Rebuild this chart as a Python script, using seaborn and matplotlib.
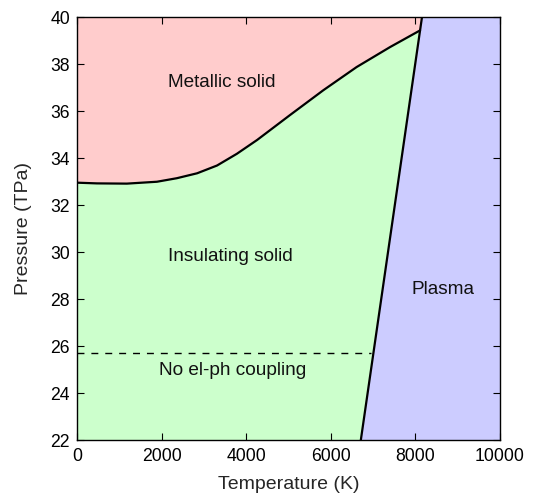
import matplotlib
matplotlib.use("Agg")
import matplotlib.pyplot as plt
import numpy as np
import pandas as pd
import seaborn as sns

# Metal-insulator boundary of the solid phase
mi_temperature = [0, 470, 1180, 1890, 2360, 2840, 3310, 3780, 4260,
                  5030, 5820, 6610, 7400, 8110]
mi_pressure = [32.95, 32.92, 32.91, 32.99, 33.14, 33.35, 33.68, 34.18, 34.77,
               35.82, 36.88, 37.87, 38.72, 39.43]

# Melting line (solid -> plasma)
melt_temperature = [6710, 8110, 8156]
melt_pressure = [22.0, 39.43, 40.0]

# Electron-phonon coupling threshold
coupling_pressure = 25.7
coupling_temperature = [0, 6950]

x_ticks = [0, 2000, 4000, 6000, 8000, 10000]
y_ticks = [22, 24, 26, 28, 30, 32, 34, 36, 38, 40]
t_min, t_max = 0, 10000
p_min, p_max = 22, 40

phase_labels = ["Metallic solid", "Insulating solid", "Plasma", "No el-ph coupling"]
label_temperature = [3420, 3620, 8650, 3690]
label_pressure = [37.2, 29.8, 28.4, 24.95]

colors = {"metal": "#ffcccc", "insulator": "#ccffcc", "plasma": "#ccccff"}

sns.set_style("ticks")
plt.rcParams["font.family"] = ["Liberation Sans", "DejaVu Sans"]

fig = plt.figure(figsize=(5.38, 4.93), dpi=100)
ax = fig.add_axes([0.1431, 0.1075, 0.7863, 0.858])
ax.set_axisbelow(False)

# Phase regions
mt = np.array(mi_temperature)
mp = np.array(mi_pressure)
metal_x = np.concatenate([[t_min], mt, [melt_temperature[-1]]])
metal_y = np.concatenate([[p_max], mp, [p_max]])
ax.fill(metal_x, metal_y, color=colors["metal"], lw=0, zorder=0.5)

ins_x = np.concatenate([[t_min], mt, [melt_temperature[0]]])
ins_y = np.concatenate([[p_min], mp, [melt_pressure[0]]])
ax.fill(ins_x, ins_y, color=colors["insulator"], lw=0, zorder=0.5)

pl_x = [melt_temperature[0], melt_temperature[-1], t_max, t_max]
pl_y = [melt_pressure[0], melt_pressure[-1], p_max, p_min]
ax.fill(pl_x, pl_y, color=colors["plasma"], lw=0, zorder=0.5)

# Phase boundaries
mi_df = pd.DataFrame({"T": mi_temperature, "P": mi_pressure})
sns.lineplot(data=mi_df, x="T", y="P", ax=ax, color="black", lw=1.6,
             sort=False, estimator=None, solid_joinstyle="round")
melt_df = pd.DataFrame({"T": melt_temperature, "P": melt_pressure})
sns.lineplot(data=melt_df, x="T", y="P", ax=ax, color="black", lw=1.6,
             sort=False, estimator=None, solid_joinstyle="round")
cp_df = pd.DataFrame({"T": coupling_temperature,
                      "P": [coupling_pressure] * len(coupling_temperature)})
sns.lineplot(data=cp_df, x="T", y="P", ax=ax, color="black", lw=1.0,
             linestyle=(0, (5, 5)), estimator=None)

for text, tx, py in zip(phase_labels, label_temperature, label_pressure):
    ax.text(tx, py, text, ha="center", va="center", fontsize=13.7, color="#111111")

ax.set_xlim(t_min, t_max)
ax.set_ylim(p_min, p_max)
ax.set_xticks(x_ticks)
ax.set_yticks(y_ticks)
ax.tick_params(direction="in", length=5, width=0.8, top=True, right=True,
               labelsize=12.7, pad=5, colors="black")
ax.tick_params(axis="x", pad=6)
for s in ax.spines.values():
    s.set_linewidth(1.0)
    s.set_color("black")
    s.set_zorder(3)
ax.set_xlabel("Temperature (K)", fontsize=14, labelpad=8)
ax.set_ylabel("Pressure (TPa)", fontsize=14, labelpad=13)

fig.savefig("out.png", dpi=100)
